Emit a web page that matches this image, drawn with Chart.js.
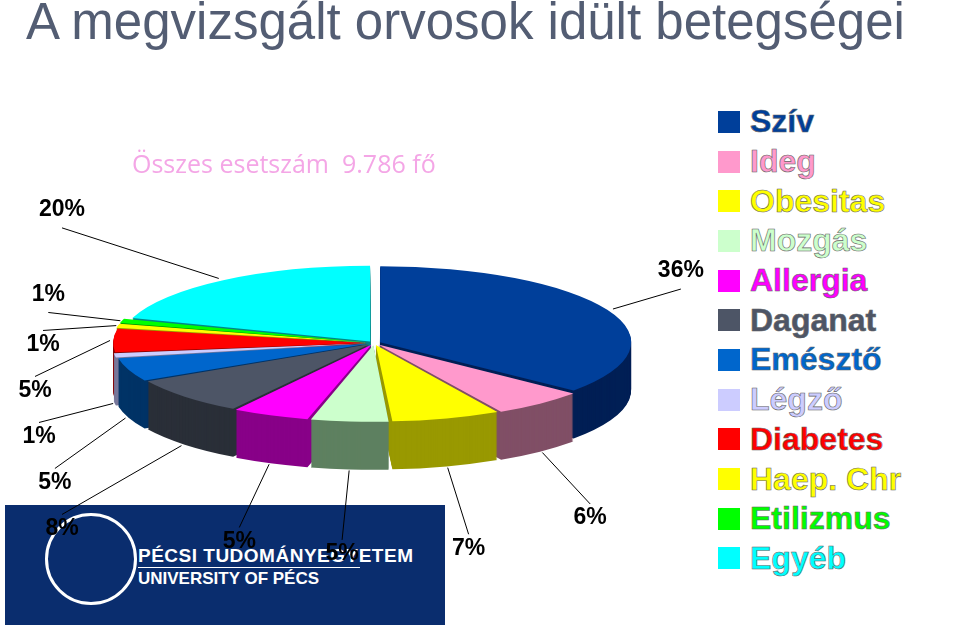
<!DOCTYPE html>
<html>
<head>
<meta charset="utf-8">
<script src="https://cdn.jsdelivr.net/npm/chart.js@4"></script>
<style>
  body { margin: 0; width: 960px; height: 637px; background: #fff; position: relative; overflow: hidden; font-family: "Liberation Sans", Arial, sans-serif; }
  #title { position: absolute; left: 26px; top: -8px; font-size: 51px; color: #535d73; white-space: nowrap; }
  #sub { position: absolute; left: 132px; top: 146px; font-size: 25px; color: #f4a6e6; font-family: "Open Sans", sans-serif; }
  #logo { position: absolute; left: 5px; top: 505px; width: 440px; height: 120px; background: #0a2d6e; color: #fff; }
  #logo .seal { position: absolute; left: 40px; top: 8px; width: 86px; height: 86px; border: 3px solid #fff; border-radius: 50%; }
  #logo .t1 { position: absolute; left: 133px; top: 40px; font-size: 19px; font-weight: bold; letter-spacing: 0.5px; }
  #logo .t2 { position: absolute; left: 133px; top: 64px; font-size: 17px; font-weight: bold; }
  #logo .rule { position: absolute; left: 133px; top: 62px; width: 222px; height: 1px; background: #fff; }
  #chartWrap { position: absolute; left: 0; top: 0; width: 710px; height: 637px; }
  #legend { position: absolute; left: 718px; top: 102px; }
  #legend div { height: 39.7px; display: flex; align-items: center; font-size: 32px; font-weight: bold; white-space: nowrap; }
  #legend span.box { width: 22px; height: 22px; margin-right: 10px; display: inline-block; }
</style>
</head>
<body>
<div id="title">A megvizsgált orvosok idült betegségei</div>
<div id="logo"><div class="seal"></div><div class="t1">PÉCSI TUDOMÁNYEGYETEM</div><div class="rule"></div><div class="t2">UNIVERSITY OF PÉCS</div></div>
<div id="chartWrap"><canvas id="pie" width="710" height="637"></canvas></div>
<div id="sub">Összes esetszám&nbsp; 9.786 fő</div>
<div id="legend"></div>
<script>
// Data
const categories = ['Szív', 'Ideg', 'Obesitas', 'Mozgás', 'Allergia', 'Daganat', 'Emésztő', 'Légző', 'Diabetes', 'Haep. Chr', 'Etilizmus', 'Egyéb'];
const percents = [36, 6, 7, 5, 5, 8, 5, 1, 5, 1, 1, 20];
const topColors = ['#003f9a', '#ff99cc', '#ffff00', '#ccffcc', '#ff00ff', '#4d5566', '#0066cc', '#ccccff', '#ff0000', '#ffff00', '#00ff00', '#00ffff'];
const sideColors = ['#001f55', '#804f66', '#999900', '#5e8060', '#880088', '#2a2f38', '#003366', '#77779a', '#880000', '#999900', '#008800', '#008888'];

// Pie geometry on the page
const PIE = { cx: 374, cy: 343, rx: 278, ry: 84, depth: 48 };

function pieTransform(chart, ctx) {
    const arc = chart.getDatasetMeta(0).data[0];
    const r = arc.outerRadius + 30;
    ctx.translate(PIE.cx, PIE.cy);
    ctx.scale(PIE.rx / r, PIE.ry / r);
    ctx.translate(-arc.x, -arc.y);
}

function toScreen(chart, px, py) {
    const arc = chart.getDatasetMeta(0).data[0];
    const r = arc.outerRadius + 30;
    return [PIE.cx + (px - arc.x) * PIE.rx / r, PIE.cy + (py - arc.y) * PIE.ry / r];
}

const pie3d = {
    id: 'pie3d',
    beforeDatasetsDraw(chart) {
        const ctx = chart.ctx;
        const arcs = chart.getDatasetMeta(0).data;
        for (let d = PIE.depth; d >= 1; d--) {
            ctx.save();
            ctx.translate(0, d);
            pieTransform(chart, ctx);
            arcs.forEach((a, i) => {
                const old = a.options.backgroundColor;
                a.options.backgroundColor = sideColors[i];
                a.draw(ctx);
                a.options.backgroundColor = old;
            });
            ctx.restore();
        }
        ctx.save();
        pieTransform(chart, ctx);
    },
    afterDatasetsDraw(chart) {
        chart.ctx.restore();
    },
    afterDraw(chart) {
        const ctx = chart.ctx;
        const arcs = chart.getDatasetMeta(0).data;
        const labels = arcs.map((a, i) => {
            const mid = (a.startAngle + a.endAngle) / 2;
            const rr = a.outerRadius + 30;
            const rim = toScreen(chart, a.x + Math.cos(mid) * rr * 0.95, a.y + Math.sin(mid) * rr * 0.95);
            const out = toScreen(chart, a.x + Math.cos(mid) * rr * 1.22, a.y + Math.sin(mid) * rr * 1.9);
            if (Math.sin(mid) > 0) { rim[1] += PIE.depth; out[1] += PIE.depth + 4; }
            return { i, mid, rim, out };
        });
        // spread the crowded labels on the left side
        const left = labels.filter(l => l.out[0] < PIE.cx - 150).sort((a, b) => a.out[1] - b.out[1]);
        for (let k = 1; k < left.length; k++) {
            if (left[k].out[1] - left[k - 1].out[1] < 46) left[k].out[1] = left[k - 1].out[1] + 46;
        }
        left.forEach(l => { l.out[0] = Math.min(l.out[0], 62); });
        ctx.save();
        ctx.strokeStyle = '#000';
        ctx.lineWidth = 1;
        ctx.fillStyle = '#000';
        ctx.font = 'bold 23px "Liberation Sans", Arial, sans-serif';
        ctx.textAlign = 'center';
        ctx.textBaseline = 'middle';
        labels.forEach(l => {
            const tx = l.out[0], ty = l.out[1];
            ctx.beginPath();
            ctx.moveTo(l.rim[0], l.rim[1]);
            ctx.lineTo(tx, ty + (ty > l.rim[1] ? -14 : 14));
            ctx.stroke();
            ctx.fillText(percents[l.i] + '%', tx, ty + (ty > l.rim[1] ? 0 : -4));
        });
        ctx.restore();
    }
};

new Chart(document.getElementById('pie'), {
    type: 'pie',
    data: {
        labels: categories,
        datasets: [{
            data: percents,
            backgroundColor: topColors,
            borderWidth: 0,
            offset: 28
        }]
    },
    options: {
        responsive: false,
        animation: false,
        layout: { padding: 40 },
        plugins: { legend: { display: false }, tooltip: { enabled: false } }
    },
    plugins: [pie3d]
});

// Legend
const legend = document.getElementById('legend');
categories.forEach((c, i) => {
    const row = document.createElement('div');
    row.innerHTML = '<span class="box" style="background:' + topColors[i] + '"></span><span style="color:' + topColors[i] + ';-webkit-text-stroke:0.6px #666">' + c + '</span>';
    legend.appendChild(row);
});
</script>
</body>
</html>
